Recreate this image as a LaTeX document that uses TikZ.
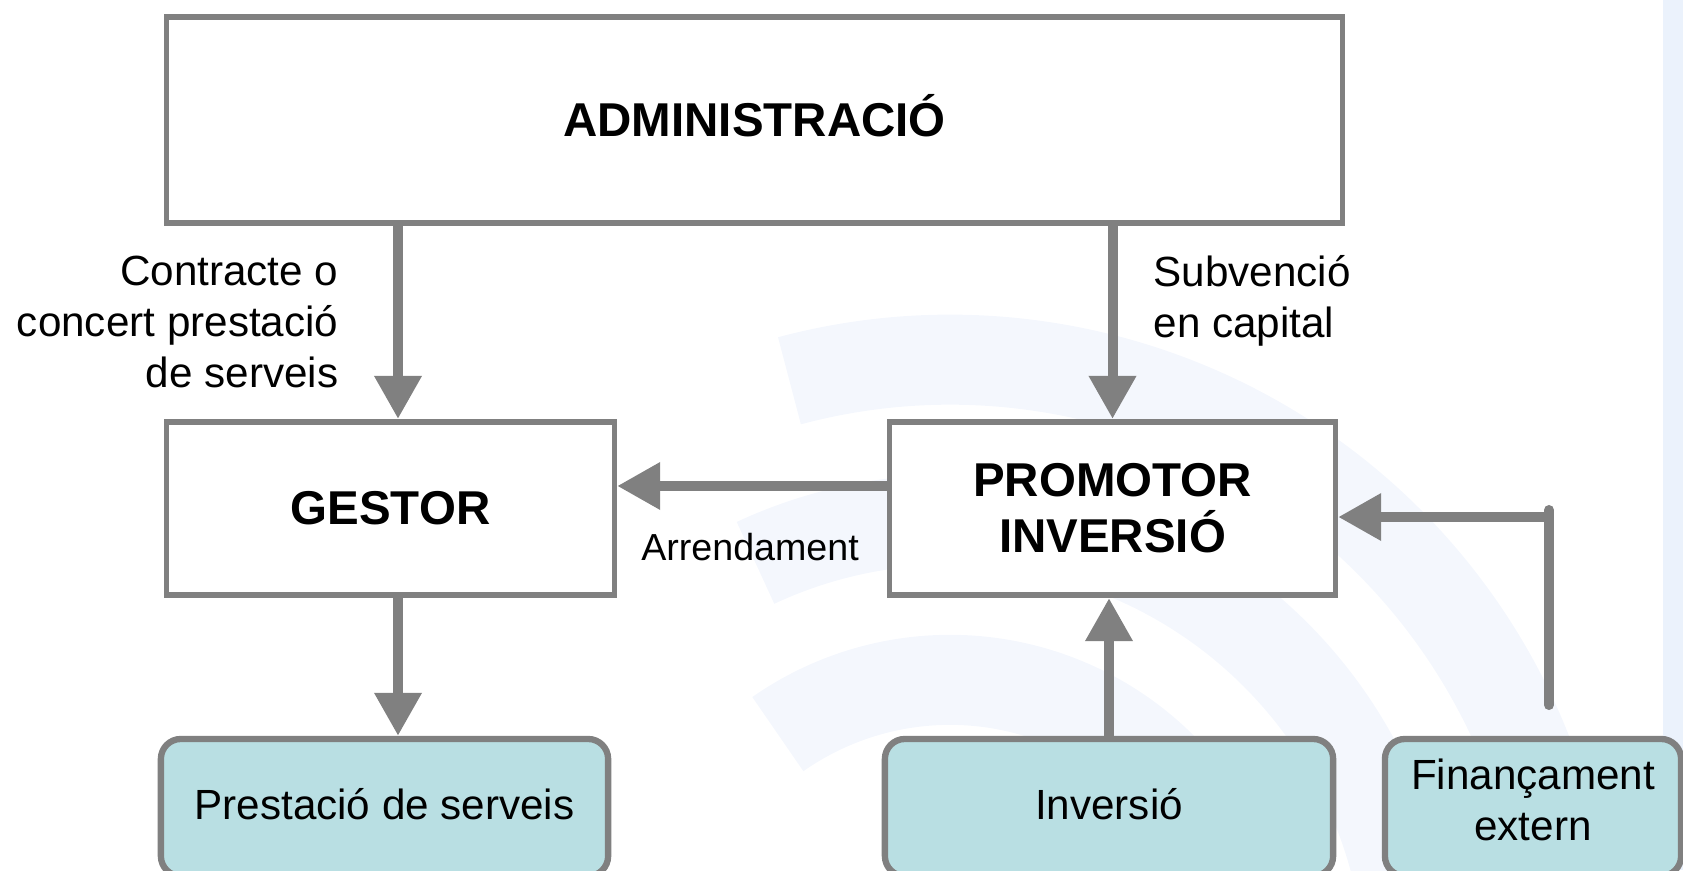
\documentclass[tikz,border=0pt]{standalone}
\usepackage{fontspec}
\setmainfont{Liberation Sans}
\usetikzlibrary{arrows.meta}

\definecolor{linegray}{HTML}{808080}
\definecolor{boxteal}{HTML}{B9DFE3}
\definecolor{markblue}{HTML}{EBF2FC}
\definecolor{arcblue}{HTML}{F4F7FD}

\tikzset{
  bigbox/.style={draw=linegray, line width=1.6pt, fill=white, align=center, inner sep=0pt,
    font=\fontsize{13.5}{16}\selectfont\bfseries},
  endbox/.style={draw=linegray, line width=1.8pt, fill=boxteal, rounded corners=0.2cm,
    align=center, inner sep=0pt, minimum height=1.37cm, font=\fontsize{12}{14.5}\selectfont},
  flow/.style={draw=linegray, line width=2.85pt, -{Triangle[length=0.43cm, width=0.45cm]}},
  lbl/.style={inner sep=0pt, font=\fontsize{12}{14.5}\selectfont},
}

\begin{document}
\begin{tikzpicture}[x=0.01cm, y=-0.01cm]
\useasboundingbox (0,0) rectangle (1683,870);
\clip (0,0) rectangle (1683,870);

% faint logo in the background
\fill[markblue] (1663,0) rectangle (1683,870);
\begin{scope}[arcblue, line width=0.9cm]
\draw ([shift={(10:3.0cm)}]950,980) arc[start angle=10, end angle=125, radius=3.0cm];
\draw ([shift={(10:4.6cm)}]950,980) arc[start angle=10, end angle=115, radius=4.6cm];
\draw ([shift={(10:6.2cm)}]950,980) arc[start angle=10, end angle=105, radius=6.2cm];
\end{scope}

% boxes
\node[bigbox, minimum width=11.755cm, minimum height=2.065cm, text height=0.33cm] (admin) at (754.5,120) {ADMINISTRACIÓ};
\node[bigbox, minimum width=4.475cm, minimum height=1.735cm] (gestor) at (390.5,508.5) {GESTOR};
\node[bigbox, minimum width=4.455cm, minimum height=1.735cm] (promotor) at (1112.5,508.5) {PROMOTOR\\INVERSIÓ};

\node[endbox, minimum width=4.47cm, text depth=0.07cm] (prest) at (384.5,807.5) {Prestació de serveis};
\node[endbox, minimum width=4.48cm, text depth=0.07cm] (inver) at (1109,807.5) {Inversió};
\node[endbox, minimum width=2.96cm, text depth=0.15cm] (finan) at (1533,807.5) {Finançament\\extern};

% arrows
\coordinate (gtop) at ([xshift=0.075cm]gestor.north);
\coordinate (gbot) at ([xshift=0.075cm]gestor.south);
\coordinate (pleft) at ([yshift=0.225cm]promotor.west);
\coordinate (pright) at ([yshift=-0.085cm]promotor.east);
\coordinate (finlow) at (1549,705);
\coordinate (finhigh) at (1549,510);

\draw[flow] (gtop |- admin.south) -- (gtop);
\draw[flow] (promotor.north |- admin.south) -- (promotor.north);
\draw[flow] (pleft) -- (pleft -| gestor.east);
\draw[flow] (gbot) -- (gbot |- prest.north);
\draw[flow] (inver.north) -- (inver.north |- promotor.south);
\draw[linegray, line width=2.85pt, line cap=round] (finlow) -- (finhigh);
\draw[flow] (pright -| finhigh) -- (pright);

% labels
\node[lbl, align=right, anchor=north east] (contr) at (339,255) {Contracte o\\concert prestació\\de serveis};
\node[lbl, align=left, anchor=north west] (subv) at (1153,255) {Subvenció\\en capital};
\node[inner sep=0pt, anchor=base, font=\fontsize{10.7}{13}\selectfont] (arrend) at (750,560) {Arrendament};
\end{tikzpicture}
\end{document}
